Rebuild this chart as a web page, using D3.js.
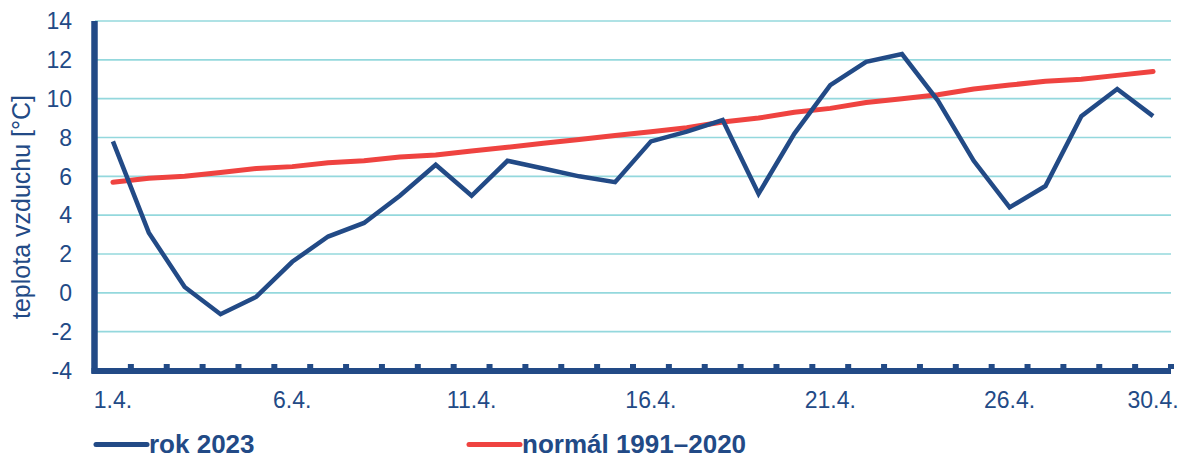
<!DOCTYPE html>
<html>
<head>
<meta charset="utf-8">
<script src="https://cdn.jsdelivr.net/npm/d3@7"></script>
<style>
  html, body { margin: 0; padding: 0; background: #ffffff; }
  svg { display: block; font-family: "Liberation Sans", Arial, sans-serif; }
</style>
</head>
<body>
<svg id="chart" width="1187" height="459"></svg>
<script>
const days = Array.from({length: 30}, (_, i) => (i + 1) + ".4.");
const labeledDays = ["1.4.", "6.4.", "11.4.", "16.4.", "21.4.", "26.4.", "30.4."];
const yTicks = [-4, -2, 0, 2, 4, 6, 8, 10, 12, 14];
const rok2023 = [7.8, 3.1, 0.3, -1.1, -0.2, 1.6, 2.9, 3.6, 5.0, 6.6,
                 5.0, 6.8, 6.4, 6.0, 5.7, 7.8, 8.3, 8.9, 5.1, 8.2,
                 10.7, 11.9, 12.3, 9.9, 6.8, 4.4, 5.5, 9.1, 10.5, 9.1];
const normal = [5.7, 5.9, 6.0, 6.2, 6.4, 6.5, 6.7, 6.8, 7.0, 7.1,
                7.3, 7.5, 7.7, 7.9, 8.1, 8.3, 8.5, 8.8, 9.0, 9.3,
                9.5, 9.8, 10.0, 10.2, 10.5, 10.7, 10.9, 11.0, 11.2, 11.4];
const seriesNames = ["rok 2023", "normál 1991–2020"];

(function () {
const NAVY = "#224a86", RED = "#ef4340", GRID = "#94d8dd";

const svg = d3.select("#chart");
const pLeft = 95, pRight = 1171, pTop = 21, pBottom = 370.5;

const xBand = d3.scaleBand().domain(days).range([pLeft, pRight]).padding(0);
const x = d3.scalePoint().domain(days).range([pLeft, pRight]).padding(0.5);
const y = d3.scaleLinear().domain([-4, 14]).range([pBottom, pTop]);

// gridlines
svg.append("g")
  .selectAll("line").data(yTicks.filter(v => v > -4)).join("line")
  .attr("x1", pLeft).attr("x2", pRight)
  .attr("y1", d => y(d)).attr("y2", d => y(d))
  .attr("stroke", GRID).attr("stroke-width", 1.6);

// y tick labels
svg.append("g")
  .selectAll("text").data(yTicks).join("text")
  .attr("x", 72).attr("y", d => y(d))
  .attr("dy", "0.36em").attr("text-anchor", "end")
  .attr("font-size", 23).attr("fill", NAVY)
  .text(d => d);

// y axis title
svg.append("text")
  .attr("transform", "translate(30,207) rotate(-90)")
  .attr("text-anchor", "middle")
  .attr("font-size", 25).attr("fill", NAVY)
  .text("teplota vzduchu [°C]");

// x tick labels
svg.append("g")
  .selectAll("text").data(labeledDays).join("text")
  .attr("x", d => x(d)).attr("y", 408)
  .attr("text-anchor", "middle")
  .attr("font-size", 23).attr("fill", NAVY)
  .text(d => d);

// lines
const line = d3.line().x((d, i) => x(days[i])).y(d => y(d));
svg.append("path").datum(normal)
  .attr("d", line).attr("fill", "none")
  .attr("stroke", RED).attr("stroke-width", 5)
  .attr("stroke-linecap", "round").attr("stroke-linejoin", "round");
svg.append("path").datum(rok2023)
  .attr("d", line).attr("fill", "none")
  .attr("stroke", NAVY).attr("stroke-width", 4.5)
  .attr("stroke-linejoin", "miter");

// axes (thick)
svg.append("line")
  .attr("x1", pLeft - 0.5).attr("x2", pLeft - 0.5)
  .attr("y1", pTop).attr("y2", pBottom + 3)
  .attr("stroke", NAVY).attr("stroke-width", 6.5);
svg.append("line")
  .attr("x1", pLeft - 3.5).attr("x2", pRight)
  .attr("y1", pBottom + 0.5).attr("y2", pBottom + 0.5)
  .attr("stroke", NAVY).attr("stroke-width", 6);

// tick marks at category boundaries
const bounds = days.slice(1).map(d => xBand(d)).concat([pRight]);
svg.append("g")
  .selectAll("rect").data(bounds).join("rect")
  .attr("x", d => d - 3).attr("y", pBottom - 6.5)
  .attr("width", 6).attr("height", 5)
  .attr("fill", NAVY);

// legend
const legend = svg.append("g");
const legendItems = [
  {name: seriesNames[0], color: NAVY, x0: 96},
  {name: seriesNames[1], color: RED, x0: 469}
];
legendItems.forEach(it => {
  legend.append("line")
    .attr("x1", it.x0).attr("x2", it.x0 + 51)
    .attr("y1", 444.5).attr("y2", 444.5)
    .attr("stroke", it.color).attr("stroke-width", 5)
    .attr("stroke-linecap", "round");
  legend.append("text")
    .attr("x", it.x0 + 53).attr("y", 452.5)
    .attr("font-size", 26).attr("font-weight", "bold")
    .attr("fill", NAVY)
    .text(it.name);
});
})();
</script>
</body>
</html>
